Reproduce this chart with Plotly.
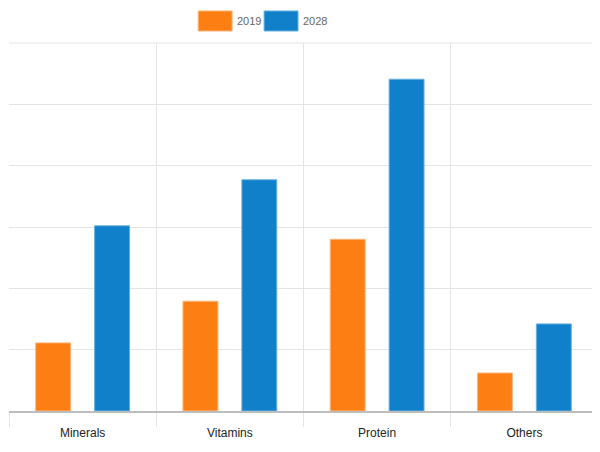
import plotly.graph_objects as go

categories = ["Minerals", "Vitamins", "Protein", "Others"]
values_2019 = [1.11, 1.79, 2.80, 0.62]
values_2028 = [3.02, 3.77, 5.41, 1.42]
series_names = ["2019", "2028"]
colors = ["#fd7f13", "#0f80c9"]
edge_colors = ["#fdb57a", "#6ab0df"]

FONT = "Liberation Sans, Arial, sans-serif"

fig = go.Figure()
for name, vals, col, edge in zip(series_names, [values_2019, values_2028], colors, edge_colors):
    fig.add_trace(go.Bar(
        x=categories, y=vals, name=name,
        marker=dict(color=col, line=dict(color=edge, width=1)),
        showlegend=False,
    ))

# custom legend, wide boxes like the original
box_x = [(0.3212, 0.3788), (0.4331, 0.4907)]
for (x0, x1), col, edge, name in zip(box_x, colors, edge_colors, series_names):
    fig.add_shape(type="rect", xref="paper", yref="paper", x0=x0, x1=x1, y0=1.0326, y1=1.087,
                  fillcolor=col, line=dict(color=edge, width=1))
    fig.add_annotation(xref="paper", yref="paper", x=x1 + 0.005, y=1.06, text=name,
                       showarrow=False, xanchor="left", yanchor="middle",
                       font=dict(family=FONT, size=11, color="#666666"))

# top grid line (plotly drops the one sitting on the plot edge)
fig.add_shape(type="line", xref="paper", yref="paper", x0=0, x1=1, y0=1, y1=1,
              line=dict(color="#e4e4e4", width=1), layer="below")

# page body adds 8px around the figure, so the figure is 592x444
fig.update_layout(
    width=592, height=444,
    margin=dict(l=0.5, r=1.5, t=35, b=41),
    paper_bgcolor="white", plot_bgcolor="white",
    barmode="group", bargap=0.2, bargroupgap=0.407,
    font=dict(family=FONT, size=12, color="#333333"),
    xaxis=dict(
        tickson="boundaries", showgrid=True, gridcolor="#e4e4e4", gridwidth=1,
        ticks="outside", ticklen=14, tickcolor="#e4e4e4",
        showline=True, linecolor="#bdbdbd", linewidth=1.5,
        tickfont=dict(size=12, color="#222222"), ticklabelstandoff=10,
    ),
    yaxis=dict(
        range=[0, 6], dtick=1, showgrid=True, gridcolor="#e4e4e4", gridwidth=1,
        showticklabels=False, ticks="",
        zeroline=False, showline=False,
    ),
)

fig.write_html("out.html")
